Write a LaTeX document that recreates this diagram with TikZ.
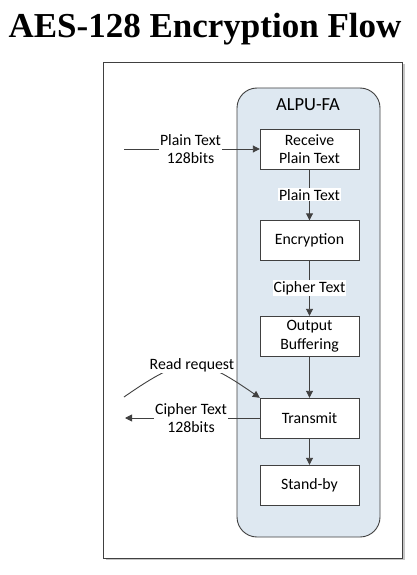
\documentclass[tikz,border=0pt]{standalone}
\usepackage{fontspec}
\setmainfont{Carlito}
\newfontfamily\titlefont{Liberation Serif}
\usetikzlibrary{arrows.meta}
\definecolor{linec}{HTML}{404040}
\definecolor{panel}{HTML}{DEE8F1}
\tikzset{
  stepbox/.style={draw=linec, fill=white, minimum width=99pt, minimum height=40pt, inner sep=0pt, align=center, font=\fontsize{15.8}{18.5}\selectfont},
  conn/.style={draw=linec, line width=0.9pt, -{Triangle[length=7pt,width=7pt]}},
  lbl/.style={fill=white, inner sep=1pt, align=center, font=\fontsize{15.8}{18.5}\selectfont}
}
\begin{document}
\begin{tikzpicture}[x=1pt,y=-1pt]
\useasboundingbox (0,0) rectangle (416,575);
\node[anchor=base, font=\titlefont\bfseries\fontsize{35}{38}\selectfont] (title) at (205,38) {AES-128 Encryption Flow};
% outer frame with shadow
\fill[gray!45] (105.5,64.5) rectangle (404.5,560);
\draw[linec, fill=white, line width=0.8pt] (103,62) rectangle (402,558);
% panel
\draw[linec, fill=panel, line width=0.9pt, rounded corners=20pt] (237,88) rectangle (380,537);
\node[font=\fontsize{18.5}{20}\selectfont] (panelname) at (308,105) {ALPU-FA};
% boxes
\node[stepbox] (recv) at (309.5,149) {Receive\\Plain Text};
\node[stepbox] (enc) at (309.5,240.5) {Encryption};
\node[stepbox] (outb) at (309.5,336) {Output\\Buffering};
\node[stepbox] (trans) at (309.5,418) {Transmit};
\node[stepbox] (stand) at (309.5,485) {Stand-by};
% internal connectors
\draw[conn] (recv) -- node[lbl] {Plain Text} (enc);
\draw[conn] (enc) -- node[lbl] {Cipher Text} (outb);
\draw[conn] (outb) -- (trans);
\draw[conn] (trans) -- (stand);
% input
\coordinate (inL) at (124,149);
\draw[conn] (inL) -- node[lbl, pos=0.49] {Plain Text\\128bits} (recv.west);
% output
\coordinate (outL) at (125,418);
\draw[conn] (trans.west) -- node[lbl, pos=0.51] {Cipher Text\\128bits} (outL);
% read request
\coordinate (rrL) at (124,397);
\draw[conn] (rrL) .. controls (186,354) and (198,355) .. node[lbl] {Read request} (trans.north west);
\end{tikzpicture}
\end{document}
